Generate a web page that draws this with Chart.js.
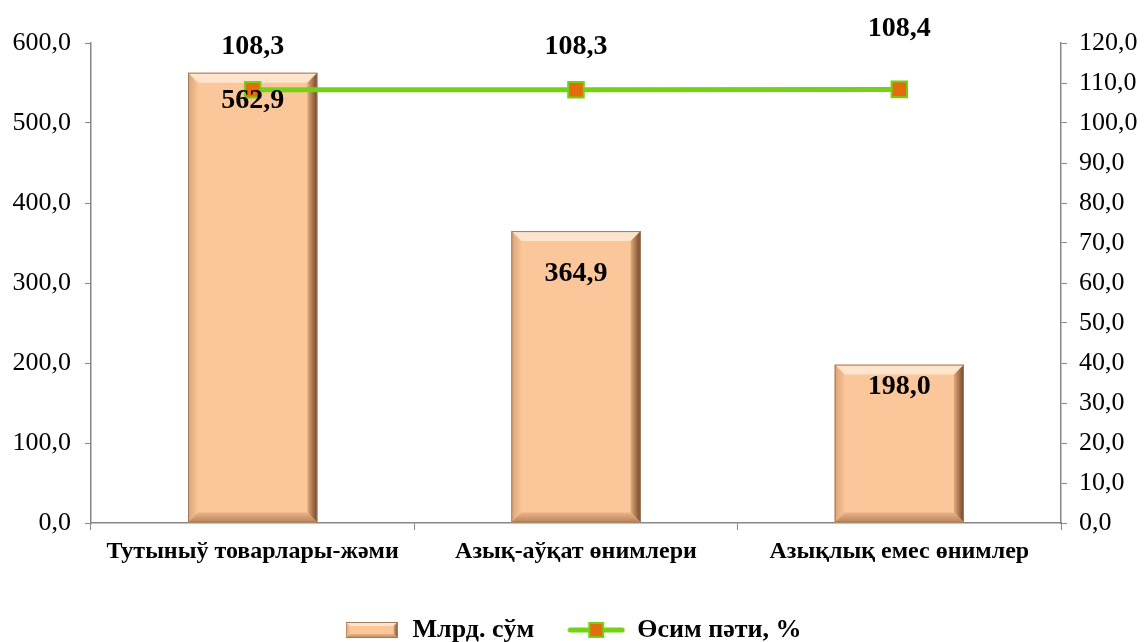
<!DOCTYPE html>
<html>
<head>
<meta charset="utf-8">
<script src="https://cdn.jsdelivr.net/npm/chart.js@4.4.1/dist/chart.umd.min.js"></script>
<style>
  html, body { margin: 0; padding: 0; background: #fff; }
  #wrap { width: 1145px; height: 642px; position: relative; }
</style>
</head>
<body>
<div id="wrap"><canvas id="salesChart"></canvas></div>
<script>
// Data
const categories = ['Тутыныў товарлары-жәми', 'Азық-аўқат өнимлери', 'Азықлық емес өнимлер'];
const volumeValues = [562.9, 364.9, 198.0];   // Млрд. сўм
const growthValues = [108.3, 108.3, 108.4];   // Өсим пәти, %
const seriesNames = ['Млрд. сўм', 'Өсим пәти, %'];

const SERIF = '"Liberation Serif", "Times New Roman", serif';
const AXIS_GREY = '#878787';
const BAR_FILL = '#fbc79a';
const LINE_GREEN = '#74d214';
const MARK_ORANGE = '#e46c0a';

function fmt(v) { return v.toFixed(1).replace('.', ','); }

// bevel for a bar, like the Excel "bevel" shape effect
function drawBevel(ctx, left, top, right, bottom, b) {
  ctx.save();
  // top face (light)
  ctx.fillStyle = '#fde4cd';
  ctx.beginPath();
  ctx.moveTo(left, top); ctx.lineTo(right, top);
  ctx.lineTo(right - b, top + b); ctx.lineTo(left + b, top + b);
  ctx.closePath(); ctx.fill();
  // left face
  let g = ctx.createLinearGradient(left, 0, left + b, 0);
  g.addColorStop(0, '#d9a477'); g.addColorStop(1, '#f8c497');
  ctx.fillStyle = g;
  ctx.beginPath();
  ctx.moveTo(left, top); ctx.lineTo(left + b, top + b);
  ctx.lineTo(left + b, bottom - b); ctx.lineTo(left, bottom);
  ctx.closePath(); ctx.fill();
  // right face (dark)
  g = ctx.createLinearGradient(right - b, 0, right, 0);
  g.addColorStop(0, '#e3a87a'); g.addColorStop(1, '#6e4527');
  ctx.fillStyle = g;
  ctx.beginPath();
  ctx.moveTo(right, top); ctx.lineTo(right - b, top + b);
  ctx.lineTo(right - b, bottom - b); ctx.lineTo(right, bottom);
  ctx.closePath(); ctx.fill();
  // bottom face
  g = ctx.createLinearGradient(0, bottom - b, 0, bottom);
  g.addColorStop(0, '#eab287'); g.addColorStop(1, '#b9825a');
  ctx.fillStyle = g;
  ctx.beginPath();
  ctx.moveTo(left, bottom); ctx.lineTo(left + b, bottom - b);
  ctx.lineTo(right - b, bottom - b); ctx.lineTo(right, bottom);
  ctx.closePath(); ctx.fill();
  ctx.strokeStyle = '#a07a5c';
  ctx.lineWidth = 1;
  ctx.strokeRect(left + 0.5, top + 0.5, right - left - 1, bottom - top - 1);
  ctx.restore();
}

// legend icons
function barIcon() {
  const c = document.createElement('canvas');
  c.width = 52; c.height = 16;
  const x = c.getContext('2d');
  x.fillStyle = BAR_FILL; x.fillRect(0, 0, 52, 16);
  drawBevel(x, 0, 0, 52, 16, 4);
  return c;
}
function lineIcon() {
  const c = document.createElement('canvas');
  c.width = 58; c.height = 18;
  const x = c.getContext('2d');
  x.strokeStyle = LINE_GREEN; x.lineWidth = 5; x.lineCap = 'round';
  x.beginPath(); x.moveTo(3, 9); x.lineTo(55, 9); x.stroke();
  x.fillStyle = MARK_ORANGE; x.fillRect(22, 2, 14, 14);
  x.strokeStyle = LINE_GREEN; x.lineWidth = 2; x.strokeRect(22, 2, 14, 14);
  return c;
}

const bevelPlugin = {
  id: 'bevel',
  afterDatasetDraw(chart, args) {
    if (args.index !== 1) return;
    const ctx = chart.ctx;
    args.meta.data.forEach(bar => {
      const p = bar.getProps(['x', 'y', 'base', 'width'], true);
      drawBevel(ctx, p.x - p.width / 2, p.y, p.x + p.width / 2, p.base, 10);
    });
  }
};

const valueLabels = {
  id: 'valueLabels',
  afterDatasetsDraw(chart, args, opts) {
    const ctx = chart.ctx;
    ctx.save();
    ctx.font = 'bold 28px ' + SERIF;
    ctx.fillStyle = '#000';
    ctx.textAlign = 'center';
    ctx.textBaseline = 'middle';
    chart.data.datasets.forEach((ds, di) => {
      const offs = opts.offsets[di];
      chart.getDatasetMeta(di).data.forEach((el, i) => {
        ctx.fillText(fmt(ds.data[i]), el.x, el.y + offs[i]);
      });
    });
    ctx.restore();
  }
};

new Chart(document.getElementById('salesChart'), {
  data: {
    labels: categories,
    datasets: [
      {
        type: 'line',
        label: seriesNames[1],
        data: growthValues,
        yAxisID: 'y1',
        borderColor: LINE_GREEN,
        borderWidth: 5,
        pointStyle: 'rect',
        pointRadius: 11,
        pointHoverRadius: 11,
        pointBackgroundColor: MARK_ORANGE,
        pointBorderColor: LINE_GREEN,
        pointBorderWidth: 2,
        order: 0
      },
      {
        type: 'bar',
        label: seriesNames[0],
        data: volumeValues,
        yAxisID: 'y',
        backgroundColor: BAR_FILL,
        borderWidth: 0,
        categoryPercentage: 1,
        barPercentage: 0.4,
        order: 1
      }
    ]
  },
  options: {
    responsive: true,
    maintainAspectRatio: false,
    animation: false,
    layout: { padding: { top: 43, right: 0, left: 0, bottom: -11 } },
    scales: {
      x: {
        grid: { display: true, drawOnChartArea: false, tickLength: 7, color: AXIS_GREY, offset: true },
        border: { color: AXIS_GREY, width: 1.5 },
        ticks: { color: '#000', font: { family: SERIF, size: 24, weight: 'bold' }, padding: 7, maxRotation: 0 },
        afterFit: s => { s.height = 60; }
      },
      y: {
        position: 'left',
        min: 0, max: 600,
        grid: { display: true, drawOnChartArea: false, tickLength: 6, color: AXIS_GREY },
        border: { color: AXIS_GREY, width: 1.5 },
        ticks: { stepSize: 100, color: '#000', font: { family: SERIF, size: 26 }, padding: 14, callback: v => fmt(v) },
        afterFit: s => { s.width = 91; }
      },
      y1: {
        position: 'right',
        min: 0, max: 120,
        grid: { display: true, drawOnChartArea: false, tickLength: 6, color: AXIS_GREY },
        border: { color: AXIS_GREY, width: 1.5 },
        ticks: { stepSize: 10, color: '#000', font: { family: SERIF, size: 26 }, padding: 12, callback: v => fmt(v) },
        afterFit: s => { s.width = 84; }
      }
    },
    plugins: {
      legend: {
        position: 'bottom',
        reverse: true,
        labels: {
          color: '#000',
          font: { family: SERIF, size: 26, weight: 'bold' },
          usePointStyle: true,
          pointStyleWidth: 56,
          padding: 34,
          generateLabels(chart) {
            const icons = [lineIcon(), barIcon()];
            return chart.data.datasets.map((ds, i) => ({
              text: ds.label,
              pointStyle: icons[i],
              fillStyle: 'transparent',
              strokeStyle: 'transparent',
              lineWidth: 0,
              datasetIndex: i,
              hidden: false
            }));
          }
        }
      },
      tooltip: { enabled: false },
      valueLabels: { offsets: [[-43, -43, -61], [28, 43, 22]] }
    }
  },
  plugins: [bevelPlugin, valueLabels]
});
</script>
</body>
</html>
